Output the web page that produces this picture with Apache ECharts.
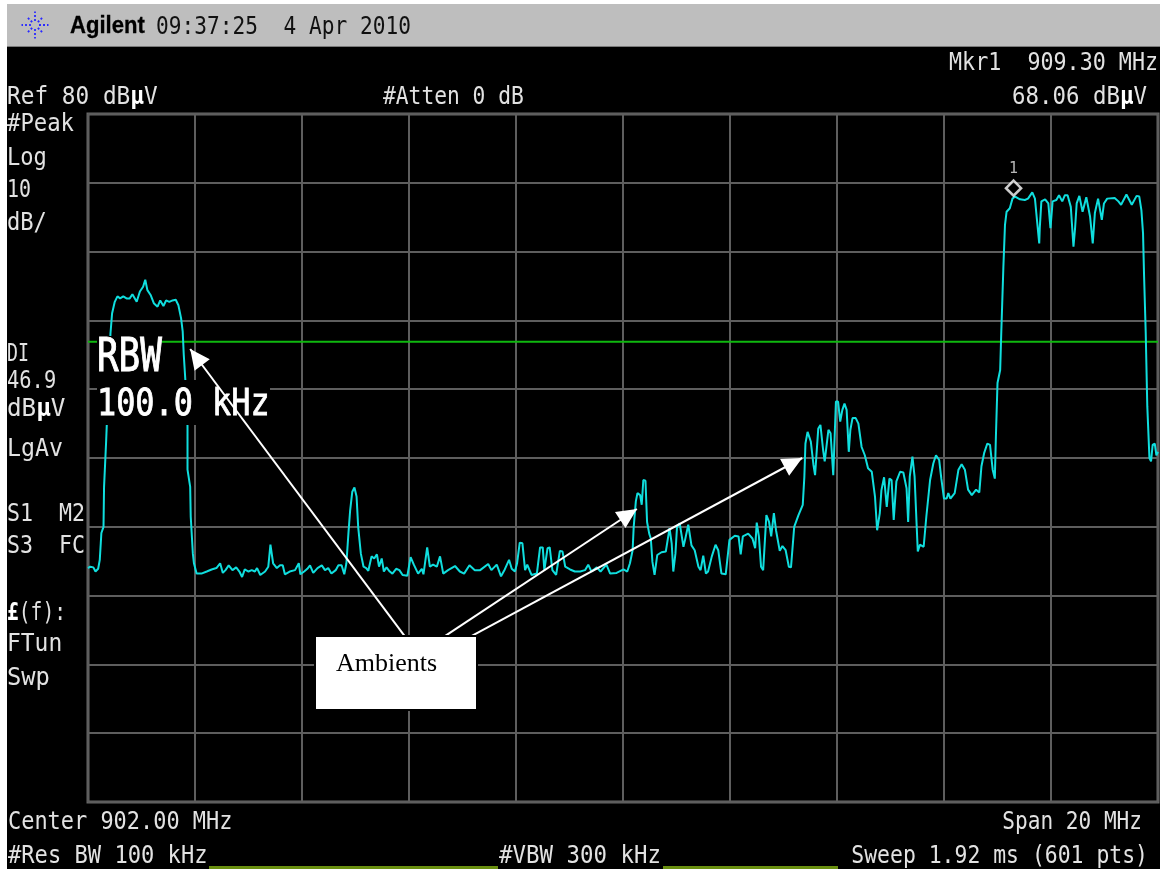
<!DOCTYPE html>
<html><head><meta charset="utf-8">
<style>html,body{margin:0;padding:0;background:#fff}#c{width:1160px;height:869px}</style>
<script src="https://cdn.jsdelivr.net/npm/echarts@6/dist/echarts.min.js"></script>
</head><body><div id="c"></div>
<script>
const freqMHz = [892.00,892.04,892.10,892.14,892.19,892.22,892.25,892.29,892.30,892.34,892.35,892.42,892.45,892.50,892.55,892.60,892.66,892.72,892.78,892.83,892.91,892.97,893.03,893.07,893.11,893.17,893.23,893.30,893.35,893.41,893.46,893.52,893.58,893.64,893.69,893.74,893.77,893.79,893.82,893.86,893.86,893.91,893.92,893.96,893.98,894.03,894.12,894.22,894.31,894.40,894.47,894.52,894.57,894.63,894.70,894.77,894.83,894.88,894.93,895.00,895.06,895.12,895.16,895.22,895.31,895.37,895.41,895.46,895.53,895.59,895.64,895.68,895.77,895.87,895.94,895.97,896.04,896.10,896.15,896.21,896.29,896.37,896.43,896.49,896.55,896.63,896.68,896.74,896.79,896.83,896.87,896.90,896.94,896.98,897.02,897.05,897.10,897.15,
897.20,897.24,897.30,897.35,897.40,897.44,897.49,897.53,897.58,897.64,897.69,897.76,897.82,897.88,897.97,898.03,898.09,898.17,898.24,898.27,898.34,898.39,898.45,898.52,898.58,898.64,898.73,898.86,898.95,899.03,899.13,899.23,899.33,899.48,899.54,899.64,899.72,899.79,899.87,899.92,899.98,900.02,900.07,900.12,900.17,900.21,900.29,900.39,900.45,900.50,900.53,900.59,900.63,900.68,900.75,900.82,900.87,900.92,901.01,901.10,901.20,901.29,901.35,901.41,901.51,901.58,901.69,901.76,901.88,902.01,902.08,902.13,902.18,902.20,902.24,902.27,
902.32,902.35,902.38,902.42,902.45,902.49,902.52,902.55,902.59,902.64,902.72,902.80,902.87,902.91,902.94,902.98,903.01,903.06,903.13,903.16,903.22,903.28,903.34,903.41,903.45,903.50,903.55,903.59,903.66,903.73,903.78,903.84,903.92,903.99,904.09,904.16,904.20,904.24,904.34,904.42,904.47,904.50,904.54,904.58,904.62,904.68,904.73,904.77,904.82,904.86,904.93,904.98,905.04,905.10,905.14,905.20,905.28,905.36,905.39,905.41,905.45,905.51,905.56,905.59,905.65,905.69,905.74,905.77,905.84,905.88,905.93,905.98,906.02,906.06,906.10,906.14,906.18,906.22,906.25,906.29,906.35,906.40,906.46,906.52,906.58,906.65,906.71,906.75,906.80,906.83,906.88,906.93,906.98,907.02,907.06,907.11,907.18,907.24,907.30,907.33,907.36,907.41,907.45,907.49,907.51,907.55,
907.62,907.67,907.74,907.80,907.85,907.91,907.95,908.00,908.05,908.08,908.12,908.20,908.27,908.33,908.39,908.45,908.52,908.60,908.66,908.70,908.75,908.81,908.86,908.91,908.95,908.97,909.00,909.05,909.07,909.11,909.14,909.17,909.23,909.28,909.33,909.42,909.51,909.57,909.65,909.70,909.74,909.78,909.79,909.82,909.89,909.95,909.99,910.03,910.10,910.15,910.21,910.26,910.31,910.37,910.42,910.45,910.48,910.53,910.59,910.66,910.73,910.78,910.82,910.88,910.95,910.99,911.05,911.19,911.26,911.31,911.41,911.51,911.60,911.65,911.69,911.72,911.74,911.77,911.80,911.84,911.87,911.90,911.94,911.97,912.00];
const levelDb = [14.0,14.2,14.1,13.5,13.9,15.2,19.1,20.0,25.8,32.6,34.6,48.1,51.0,52.7,53.5,53.2,53.5,53.2,53.2,53.8,52.7,54.2,54.9,55.9,54.4,53.7,52.5,52.0,52.9,52.1,52.9,52.7,52.9,53.0,52.2,50.3,48.4,45.0,41.3,34.6,28.3,25.8,21.5,16.1,14.7,13.2,13.2,13.5,13.8,14.0,14.7,13.3,13.7,14.4,13.7,14.1,13.5,12.7,13.8,13.5,13.7,13.5,14.0,13.0,13.5,14.2,17.4,14.7,14.0,14.4,14.4,13.1,13.5,13.7,14.7,13.1,13.5,13.9,14.4,13.3,14.0,14.4,13.7,14.0,13.2,13.7,14.4,14.4,13.1,14.7,19.3,22.4,25.1,25.7,24.4,20.0,16.1,14.2,
14.0,13.6,15.7,15.4,16.0,14.2,15.4,13.5,14.1,13.5,13.2,13.9,13.7,13.0,12.9,15.6,14.5,13.2,13.9,13.1,17.0,14.2,14.5,14.2,15.7,13.2,13.7,14.3,13.5,13.2,14.4,13.7,13.7,14.6,13.7,14.5,12.8,13.8,15.2,13.9,13.5,14.7,17.7,17.6,13.7,14.5,13.0,13.2,17.0,17.0,13.7,16.9,17.0,13.7,13.0,16.5,16.4,14.2,13.8,13.5,13.5,13.7,14.5,13.5,14.1,13.5,14.5,13.2,13.3,13.8,13.5,14.7,16.6,20.0,23.7,24.9,
24.6,23.2,26.8,26.7,20.7,19.0,18.3,14.9,13.0,15.9,16.3,16.4,19.8,17.6,13.5,16.1,20.0,20.5,17.1,18.1,20.3,17.3,16.6,14.2,13.7,15.8,13.2,13.5,15.7,17.4,16.6,13.2,13.1,18.1,18.7,18.6,16.0,18.6,19.0,18.3,16.9,20.6,18.6,14.2,13.7,21.7,20.7,18.6,22.0,19.5,16.5,17.2,16.6,14.2,14.1,20.0,21.7,23.2,27.3,32.1,33.8,32.4,29.0,27.5,34.3,34.8,31.2,29.5,34.1,33.6,27.5,38.2,38.2,35.3,37.0,37.9,37.0,30.9,34.1,35.8,35.8,35.0,31.6,30.4,28.5,28.0,24.4,19.5,22.0,25.3,27.2,22.9,27.0,26.8,21.0,26.6,28.0,27.9,25.6,20.7,27.3,30.2,27.3,20.0,16.4,17.4,
17.1,21.5,26.8,29.2,30.4,29.7,27.0,24.1,24.1,24.9,24.1,24.9,28.3,29.1,28.3,25.4,24.6,25.4,25.0,28.8,30.7,32.1,31.9,28.3,27.0,33.1,40.9,42.8,48.1,57.8,63.9,65.8,66.3,67.7,68.0,67.6,67.5,67.7,68.6,67.7,64.4,61.2,63.4,67.3,67.6,67.0,63.4,67.3,67.5,68.2,67.3,68.2,68.2,66.5,60.7,63.4,67.0,68.1,65.8,67.9,65.1,61.2,65.6,67.7,64.6,67.0,67.7,67.8,67.3,66.8,68.3,66.8,68.1,68.0,66.0,62.7,56.4,48.4,37.5,30.0,29.5,31.9,32.1,30.4,30.9];
const displayLineDb = 46.9;
const markerFreq = 909.30, markerLevel = 68.06;
const arrowStart = [[897.93,4.0],[898.65,4.0],[899.14,4.0]];
const arrowTip = [[893.91,45.84],[902.26,22.59],[905.35,30.0]];
const annotation = 'Ambients';

const el = document.getElementById('c');
const chart = echarts.init(el, null, {renderer:'canvas'});
const mono = '"DejaVu Sans Mono"';
const COL = '#e2e2e2';
function txt(s, x, y, adv, align){
  return {type:'text', x, y:y+2, z:40, scaleX:adv/12.04, scaleY:1.22, silent:true,
    style:{text:s, fill:COL, font:'20px '+mono, align:align||'left', verticalAlign:'middle',
      rich:{b:{fill:'#fff', fontFamily:mono, fontSize:20, fontWeight:'bold'}, n:{fill:COL, fontFamily:mono, fontSize:20}}}};
}
function rich(a,b,c,x,y,adv,align){
  return txt('{n|'+a+'}{b|'+b+'}{n|'+c+'}',x,y,adv,align);
}
const g = [];
g.push({type:'rect',z:30,shape:{x:0,y:0,width:1160,height:4},style:{fill:'#fff'}});
g.push({type:'rect',z:30,shape:{x:0,y:0,width:7,height:869},style:{fill:'#fff'}});
g.push({type:'rect',z:31,shape:{x:7,y:4,width:1153,height:42},style:{fill:'#bebebe'}});
g.push({type:'rect',z:31,shape:{x:7,y:46,width:1153,height:1},style:{fill:'#7a7a7a'}});
// logo: dotted starburst
for(let i=0;i<8;i++){
  const a=i*Math.PI/4, r0=4, r1=i%2===0?13.5:11.5;
  g.push({type:'line',z:32,shape:{x1:35+r0*Math.cos(a),y1:25+r0*Math.sin(a),x2:35+r1*Math.cos(a),y2:25+r1*Math.sin(a)},style:{stroke:'#2a2aff',lineWidth:1.8,lineDash:[2,2]}});
}
g.push({type:'text',z:40,x:70,y:26,scaleX:0.92,style:{text:'Agilent',fill:'#000',stroke:'#000',lineWidth:0.3,font:'bold 24px "Liberation Sans"',verticalAlign:'middle'}});
g.push({type:'text',z:40,x:156,y:28,scaleX:12.75/12.04,scaleY:1.22,style:{text:'09:37:25  4 Apr 2010',fill:'#111',font:'20px '+mono,verticalAlign:'middle'}});
g.push(txt('Mkr1  909.30 MHz',1158,62,13.06,'right'));
g.push(rich('68.06 dB','µ','V',1147,96,13.5,'right'));
g.push(rich('Ref 80 dB','µ','V',7,96,13.7));
g.push(txt('#Atten 0 dB',383,96,12.8));
[['#Peak',123,13.4],['Log',157,13.3],['10',189,12],['dB/',222,13.3],['DI',353,11],['46.9',380,12.3],['LgAv',448,14],['S1  M2',513,13],['S3  FC',545,13],['FTun',643,13.8],['Swp',677,14.3]]
  .forEach(p=>g.push(txt(p[0],7,p[1],p[2])));
g.push(rich('dB','µ','V',7,408,14.6));
g.push(rich('','£','(f):',7,612,11.8));
g.push(txt('Center 902.00 MHz',8,821,13.2));
g.push(txt('Span 20 MHz',1142,821,12.7,'right'));
g.push(txt('#Res BW 100 kHz',8,855,13.3));
g.push(txt('#VBW 300 kHz',499,855,13.5));
g.push(txt('Sweep 1.92 ms (601 pts)',1148,855,12.9,'right'));
g.push({type:'rect',z:31,shape:{x:209,y:866,width:289,height:3},style:{fill:'#6a8f10'}});
g.push({type:'rect',z:31,shape:{x:663,y:866,width:175,height:3},style:{fill:'#6a8f10'}});
g.push({type:'rect',z:50,shape:{x:97,y:336,width:65,height:44},style:{fill:'#000'}});
g.push({type:'rect',z:50,shape:{x:97,y:380,width:173,height:45},style:{fill:'#000'}});
function big(s,x,y,sx,sy){return {type:'text',z:51,x,y,scaleX:sx,scaleY:sy,style:{text:s,fill:'#fff',font:'27px '+mono,verticalAlign:'middle',stroke:'#fff',lineWidth:0.6}};}
g.push(big('RBW',97,359,1.33,1.72));
g.push(big('100.0 kHz',97,406,1.18,1.35));
g.push({type:'rect',z:70,shape:{x:316,y:637,width:160,height:72},style:{fill:'#fff',stroke:'#000',lineWidth:4,strokeFirst:true}});
g.push({type:'rect',z:70,shape:{x:316,y:637,width:160,height:72},style:{fill:'#fff'}});
g.push({type:'text',z:71,x:336,y:664,style:{text:annotation,fill:'#000',font:'26px "Liberation Serif"',verticalAlign:'middle'}});

const ARROW='path://M0 0L-9.5 20L9.5 20Z M0 -20L0 -20Z M-20 0L-20 0Z M20 0L20 0Z';
chart.setOption({
  animation:false,
  backgroundColor:'#000',
  grid:{left:88,right:2,top:114,bottom:67,show:true,borderColor:'#666',borderWidth:3,backgroundColor:'transparent'},
  xAxis:{type:'value',min:892,max:912,interval:2,axisLabel:{show:false},axisTick:{show:false},axisLine:{show:false},
    splitLine:{show:true,lineStyle:{color:'#5e5e5e',width:2}}},
  yAxis:{type:'value',min:-20,max:80,interval:10,axisLabel:{show:false},axisTick:{show:false},axisLine:{show:false},
    splitLine:{show:true,lineStyle:{color:'#5e5e5e',width:2}}},
  graphic:g,
  series:[
    {name:'Display line',type:'line',z:3,silent:true,showSymbol:false,data:[[892,displayLineDb],[912,displayLineDb]],lineStyle:{color:'#0fb80f',width:2}},
    {name:'Trace',type:'line',z:4,showSymbol:false,silent:true,data:freqMHz.map((f,i)=>[f,levelDb[i]]),
      lineStyle:{color:'#10dede',width:2},
      markLine:{z:60,silent:true,symbol:['none',ARROW],symbolSize:40,label:{show:false},
        lineStyle:{color:'#fff',width:2,type:'solid'},
        data:arrowStart.map((s,i)=>[{coord:s},{coord:arrowTip[i]}])}},
    {name:'Marker 1',type:'scatter',z:6,silent:true,data:[[markerFreq,markerLevel]],symbol:'diamond',symbolSize:15,symbolOffset:[0,-8],
      itemStyle:{color:'#000',borderColor:'#fff',borderWidth:2.6},
      label:{show:true,formatter:'1',position:'top',distance:3,color:COL,fontFamily:mono,fontSize:15}}
  ]
});
</script></body></html>
